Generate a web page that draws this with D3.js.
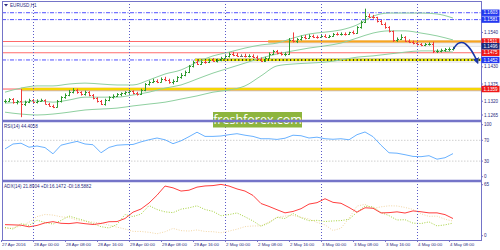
<!DOCTYPE html>
<html>
<head>
<meta charset="utf-8">
<script src="https://cdn.jsdelivr.net/npm/d3@7"></script>
<style>
  body { margin: 0; background: #fff; }
  svg { display: block; font-family: "Liberation Sans", Arial, sans-serif; }
</style>
</head>
<body>
<script>
// --- DATA ---

const symbol = 'EURUSD,H1';

// time axis (bar index of each label, 1 bar = 1 hour)
const timeLabels = ['27 Apr 2016', '28 Apr 00:00', '28 Apr 08:00', '28 Apr 16:00', '29 Apr 00:00',
    '29 Apr 08:00', '29 Apr 16:00', '2 May 00:00', '2 May 08:00', '2 May 16:00', '3 May 00:00',
    '3 May 08:00', '3 May 16:00', '4 May 00:00', '4 May 08:00'];
const timeTickBars = [-1, 7, 15, 23, 31, 39, 47, 55, 63, 71, 79, 87, 95, 103, 111];
const daySeparatorBars = [7, 31, 55, 79, 103];

// hourly bars [open, high, low, close], 27 Apr 17:00 -> 4 May 09:00
const bars = [
    [1.1320, 1.1326, 1.1314, 1.1322], [1.1322, 1.1330, 1.1318, 1.1326], [1.1326, 1.1330, 1.1312, 1.1316],
    [1.1316, 1.1324, 1.1310, 1.1320], [1.1320, 1.1359, 1.1269, 1.1312], [1.1312, 1.1322, 1.1305, 1.1318],
    [1.1318, 1.1328, 1.1314, 1.1324], [1.1324, 1.1327, 1.1315, 1.1318], [1.1318, 1.1326, 1.1313, 1.1322],
    [1.1322, 1.1328, 1.1318, 1.1324], [1.1324, 1.1326, 1.1310, 1.1312], [1.1312, 1.1315, 1.1303, 1.1306],
    [1.1306, 1.1309, 1.1298, 1.1302], [1.1302, 1.1324, 1.1300, 1.1320], [1.1320, 1.1336, 1.1316, 1.1332],
    [1.1332, 1.1345, 1.1328, 1.1340], [1.1340, 1.1356, 1.1336, 1.1350], [1.1350, 1.1362, 1.1345, 1.1357],
    [1.1357, 1.1360, 1.1344, 1.1348], [1.1348, 1.1352, 1.1338, 1.1342], [1.1342, 1.1354, 1.1338, 1.1350],
    [1.1350, 1.1352, 1.1336, 1.1340], [1.1340, 1.1343, 1.1326, 1.1330], [1.1330, 1.1333, 1.1316, 1.1320],
    [1.1320, 1.1324, 1.1308, 1.1312], [1.1312, 1.1328, 1.1306, 1.1324], [1.1324, 1.1336, 1.1320, 1.1332],
    [1.1332, 1.1342, 1.1328, 1.1338], [1.1338, 1.1346, 1.1334, 1.1342], [1.1342, 1.1348, 1.1336, 1.1346],
    [1.1346, 1.1352, 1.1340, 1.1348], [1.1348, 1.1356, 1.1344, 1.1352], [1.1352, 1.1355, 1.1342, 1.1346],
    [1.1346, 1.1350, 1.1338, 1.1342], [1.1342, 1.1360, 1.1340, 1.1356], [1.1356, 1.1378, 1.1352, 1.1374],
    [1.1374, 1.1386, 1.1370, 1.1382], [1.1382, 1.1392, 1.1378, 1.1386], [1.1386, 1.1390, 1.1378, 1.1382],
    [1.1382, 1.1396, 1.1380, 1.1392], [1.1392, 1.1398, 1.1384, 1.1388], [1.1388, 1.1392, 1.1376, 1.1380],
    [1.1380, 1.1390, 1.1374, 1.1386], [1.1386, 1.1400, 1.1382, 1.1396], [1.1396, 1.1410, 1.1392, 1.1404],
    [1.1404, 1.1418, 1.1400, 1.1414], [1.1414, 1.1436, 1.1410, 1.1432], [1.1432, 1.1450, 1.1428, 1.1446],
    [1.1446, 1.1452, 1.1436, 1.1440], [1.1440, 1.1450, 1.1436, 1.1446], [1.1446, 1.1452, 1.1440, 1.1444],
    [1.1444, 1.1456, 1.1442, 1.1452], [1.1452, 1.1458, 1.1446, 1.1450], [1.1450, 1.1456, 1.1444, 1.1452],
    [1.1452, 1.1462, 1.1448, 1.1458], [1.1458, 1.1470, 1.1454, 1.1466], [1.1466, 1.1476, 1.1460, 1.1472],
    [1.1472, 1.1478, 1.1464, 1.1468], [1.1468, 1.1474, 1.1462, 1.1466], [1.1466, 1.1470, 1.1462, 1.1466],
    [1.1466, 1.1472, 1.1460, 1.1464], [1.1464, 1.1470, 1.1460, 1.1466], [1.1466, 1.1470, 1.1458, 1.1462],
    [1.1462, 1.1466, 1.1452, 1.1456], [1.1456, 1.1460, 1.1446, 1.1450], [1.1450, 1.1462, 1.1446, 1.1458],
    [1.1458, 1.1476, 1.1456, 1.1472], [1.1472, 1.1484, 1.1468, 1.1480], [1.1480, 1.1484, 1.1470, 1.1474],
    [1.1474, 1.1478, 1.1466, 1.1470], [1.1470, 1.1476, 1.1464, 1.1472], [1.1472, 1.1522, 1.1468, 1.1516],
    [1.1516, 1.1540, 1.1508, 1.1514], [1.1514, 1.1522, 1.1506, 1.1518], [1.1518, 1.1530, 1.1514, 1.1526],
    [1.1526, 1.1532, 1.1518, 1.1522], [1.1522, 1.1534, 1.1520, 1.1530], [1.1530, 1.1533, 1.1522, 1.1526],
    [1.1526, 1.1530, 1.1520, 1.1524], [1.1524, 1.1532, 1.1522, 1.1528], [1.1528, 1.1534, 1.1524, 1.1526],
    [1.1526, 1.1532, 1.1522, 1.1528], [1.1528, 1.1538, 1.1526, 1.1536], [1.1536, 1.1540, 1.1530, 1.1534],
    [1.1534, 1.1540, 1.1530, 1.1536], [1.1536, 1.1540, 1.1530, 1.1534], [1.1534, 1.1542, 1.1532, 1.1540],
    [1.1540, 1.1546, 1.1534, 1.1538], [1.1538, 1.1560, 1.1536, 1.1556], [1.1556, 1.1578, 1.1552, 1.1574],
    [1.1574, 1.1616, 1.1570, 1.1594], [1.1594, 1.1600, 1.1586, 1.1590], [1.1590, 1.1596, 1.1584, 1.1588],
    [1.1588, 1.1590, 1.1572, 1.1576], [1.1576, 1.1580, 1.1564, 1.1568], [1.1568, 1.1572, 1.1552, 1.1556],
    [1.1556, 1.1560, 1.1540, 1.1544], [1.1544, 1.1546, 1.1510, 1.1516], [1.1516, 1.1524, 1.1510, 1.1520],
    [1.1520, 1.1534, 1.1516, 1.1526], [1.1526, 1.1528, 1.1510, 1.1514], [1.1514, 1.1518, 1.1506, 1.1510],
    [1.1510, 1.1514, 1.1502, 1.1506], [1.1506, 1.1510, 1.1498, 1.1502], [1.1502, 1.1506, 1.1496, 1.1500],
    [1.1500, 1.1506, 1.1496, 1.1502], [1.1502, 1.1508, 1.1498, 1.1504], [1.1504, 1.1510, 1.1474, 1.1480],
    [1.1480, 1.1486, 1.1474, 1.1482], [1.1482, 1.1488, 1.1476, 1.1484], [1.1484, 1.1490, 1.1478, 1.1486],
    [1.1486, 1.1492, 1.1480, 1.1488], [1.1488, 1.1494, 1.1482, 1.1490]
];

// bollinger bands, read every 4 bars
const bbStep = 4;
const bbUpper = [1.1349, 1.1362, 1.1369, 1.1369, 1.1375, 1.1378, 1.1375, 1.1372, 1.1372, 1.1388, 1.1407,
    1.1420, 1.1445, 1.1465, 1.1477, 1.1490, 1.1500, 1.1506, 1.1522, 1.1535, 1.1541, 1.1548, 1.1564,
    1.1592, 1.1602, 1.1602, 1.1602, 1.1599, 1.1586];
const bbMiddle = [1.1314, 1.1317, 1.1321, 1.1317, 1.1324, 1.1333, 1.1333, 1.1333, 1.1340, 1.1349, 1.1362,
    1.1372, 1.1391, 1.1410, 1.1426, 1.1442, 1.1458, 1.1471, 1.1481, 1.1490, 1.1497, 1.1506, 1.1522,
    1.1538, 1.1545, 1.1545, 1.1538, 1.1529, 1.1516];
const bbLower = [1.1285, 1.1279, 1.1276, 1.1279, 1.1285, 1.1292, 1.1295, 1.1298, 1.1305, 1.1311, 1.1317,
    1.1327, 1.1337, 1.1349, 1.1356, 1.1369, 1.1401, 1.1433, 1.1439, 1.1442, 1.1445, 1.1452, 1.1461,
    1.1465, 1.1471, 1.1477, 1.1481, 1.1481, 1.1477];

// indicators, read every 2 bars
const indStep = 2;
const rsi = [53.3, 62.9, 64.4, 56.7, 59, 56, 44, 60.6, 64.4, 67.9, 62.9, 61.5, 46, 56.3, 60.6, 61.5, 62, 67,
    71, 74.4, 71, 63.5, 69, 77, 85.6, 77.5, 77.5, 78.3, 80.8, 82.7, 79.8, 77.5, 73, 73, 71.7, 74, 79.8,
    78.8, 74.4, 76, 73, 72, 73, 71, 80.8, 86, 77, 60.6, 46, 45.2, 42.3, 39, 38.5, 40.4, 33.7, 36.5, 44.4];
const rsiLast = '44.4058';
const rsiLevels = [70, 30];
const rsiTicks = [100, 70, 30, 0];

const adx = [14.1, 13.8, 13.4, 11.3, 13.1, 16.3, 17.9, 15.8, 15.4, 16.6, 15.3, 14.3, 15.6, 17.8, 18, 21.9,
    30, 34, 41.6, 51.6, 63.3, 61, 56.9, 58, 61.9, 63.4, 63.9, 65.4, 63.3, 59.6, 56.9, 51.3, 41, 37.3, 33.1,
    29.1, 30.9, 34.4, 40.3, 42.1, 47.1, 42.5, 41.3, 36, 30, 35.6, 35, 29, 29.4, 30.4, 28.9, 31.6, 30.5,
    29.1, 29.1, 26.9, 21.9];
const plusDI = [10.6, 8.5, 15.3, 13.1, 19.8, 16.9, 14.8, 19.4, 25, 22, 19.1, 15.4, 11.5, 9.9, 14.4, 26.9,
    24.4, 27.5, 38.4, 33.4, 30.4, 29.4, 33.8, 35.5, 38.1, 33.4, 31, 25.4, 26.9, 29, 24.1, 18.8, 12.1, 16.3,
    23.4, 21.9, 28.4, 22.9, 19.1, 19.6, 18.1, 18.8, 19.3, 20.8, 30, 37.8, 36.6, 29.6, 25.6, 20, 20.4, 16,
    15.5, 17.6, 12.5, 13.8, 16.1];
const minusDI = [8.8, 10, 12.3, 17.1, 24.3, 27.1, 26.3, 24.1, 23.1, 20, 18.3, 17.3, 16.1, 13.4, 10.9, 8.5,
    5.5, 5.4, 4.3, 2.5, 5, 9.3, 6.5, 5.9, 7.3, 5.4, 5.1, 3.8, 5.9, 8.3, 11.6, 12.4, 12.5, 17.5, 23.4, 25,
    25.9, 23.4, 21.3, 16.9, 13.8, 6.6, 9.5, 22.3, 37.8, 40, 34.6, 36.8, 38.1, 37.9, 36, 33.5, 27.9, 24.6,
    25, 21, 18.6];
const adxLast = ['21.8904', '16.1472', '18.5882'];
const adxTicks = [65, 0];

// price axis + levels
const priceTicks = [1.1540, 1.1430, 1.1375, 1.1320, 1.1265];
const blueLevels = [1.1603, 1.1581, 1.1452];
const redLevels = [1.1511, 1.1475];
const bidPrice = 1.1496;
const lowLevel = { price: 1.1359, fromBar: 4 };
const supportLevel = { price: 1.1452, fromBar: 47.5 };
const resistLevel = { price: 1.1511, fromBar: 65.8 };
// forecast arrow [bar, price]
const forecast = [[112.1, 1.1487], [113.3, 1.1505], [114.6, 1.1507], [116.2, 1.1489], [117.5, 1.1462], [118, 1.1448]];


// --- SVG ---

const svg = d3.select('body').append('svg')
    .attr('width', 500)
    .attr('height', 250);

const frame = { left: 2, right: 481, top: 1, bottom: 240 };
const panels = {
    main: [2, 120],
    rsi: [122, 180],
    adx: [182, 239]
};
const axisColor = '#7474c8';
const textColor = '#2a2a80';

const xScale = d3.scaleLinear().domain([0, bars.length - 1]).range([5, 453]);
const yMain = d3.scaleLinear().domain([1.1260, 1.1637]).range([120, 2.1]);
const yRsi = d3.scaleLinear().domain([0, 100]).range([176.7, 124.7]);
const yAdx = d3.scaleLinear().domain([0, 65]).range([235.7, 184.7]);

// clip paths per panel
const defs = svg.append('defs');
Object.entries(panels).forEach(([name, [t, b]]) => {
    defs.append('clipPath').attr('id', 'clip-' + name)
        .append('rect')
        .attr('x', frame.left).attr('y', t)
        .attr('width', frame.right - frame.left).attr('height', b - t);
});
defs.append('marker')
    .attr('id', 'arrowhead')
    .attr('viewBox', '0 0 10 10')
    .attr('refX', 5).attr('refY', 5)
    .attr('markerWidth', 4).attr('markerHeight', 4)
    .attr('orient', 'auto')
    .append('path')
    .attr('d', 'M0,0 L10,5 L0,10 z')
    .attr('fill', '#1a36a6');

const mainG = svg.append('g').attr('clip-path', 'url(#clip-main)');
const rsiG = svg.append('g').attr('clip-path', 'url(#clip-rsi)');
const adxG = svg.append('g').attr('clip-path', 'url(#clip-adx)');

// day separators (dotted, through all panels)
svg.append('g').selectAll('line')
    .data(daySeparatorBars)
    .enter()
    .append('line')
    .attr('x1', d => Math.round(xScale(d)) + 0.5)
    .attr('x2', d => Math.round(xScale(d)) + 0.5)
    .attr('y1', frame.top)
    .attr('y2', frame.bottom)
    .attr('stroke', '#5b5bc8')
    .attr('stroke-dasharray', '1,2');

// --- main panel: levels ---
const hLine = (g, price, x0, color, width, dash) => g.append('line')
    .attr('x1', x0).attr('x2', frame.right)
    .attr('y1', yMain(price)).attr('y2', yMain(price))
    .attr('stroke', color)
    .attr('stroke-width', width)
    .attr('stroke-dasharray', dash || null);

hLine(mainG, bidPrice, frame.left, '#d8d8d8', 1);
blueLevels.forEach(p => hLine(mainG, p, frame.left, '#4f4fff', 1, '4,1.5,1,1.5'));
redLevels.forEach(p => hLine(mainG, p, frame.left, '#ff6b6b', 1.2));

// low level 1.1359: red thin line + highlighted yellow band
hLine(mainG, lowLevel.price, frame.left, '#ff5a5a', 1);
hLine(mainG, lowLevel.price - 0.0003, xScale(lowLevel.fromBar), '#c4c4c4', 4).attr('opacity', 0.3);
hLine(mainG, lowLevel.price, xScale(lowLevel.fromBar), '#d88a10', 2.8);
hLine(mainG, lowLevel.price, xScale(lowLevel.fromBar), '#fff000', 1.6);

// support 1.1452: yellow / dark dashed
hLine(mainG, supportLevel.price - 0.0003, xScale(supportLevel.fromBar), '#c4c4c4', 4).attr('opacity', 0.3);
hLine(mainG, supportLevel.price, xScale(supportLevel.fromBar), '#3a3a10', 2.2);
hLine(mainG, supportLevel.price, xScale(supportLevel.fromBar), '#f2ee00', 2.2, '2.5,1.2');

// resistance 1.1511: orange
hLine(mainG, resistLevel.price - 0.0003, xScale(resistLevel.fromBar), '#c4c4c4', 4).attr('opacity', 0.3);
hLine(mainG, resistLevel.price, xScale(resistLevel.fromBar), '#f08a00', 2);
hLine(mainG, resistLevel.price + 0.0001, xScale(resistLevel.fromBar), '#ffc640', 0.7);

// bollinger bands
const bandLine = d3.line()
    .x((d, i) => xScale(i * bbStep))
    .y(d => yMain(d))
    .curve(d3.curveMonotoneX);

mainG.selectAll('.band')
    .data([bbUpper, bbMiddle, bbLower])
    .enter()
    .append('path')
    .attr('class', 'band')
    .attr('d', bandLine)
    .attr('fill', 'none')
    .attr('stroke', '#8fd0a0')
    .attr('stroke-width', 1);

// OHLC bars
const barColor = d => d[3] > d[0] ? '#2f9a2f' : (d[3] < d[0] ? '#f03c3c' : '#707070');
const barG = mainG.selectAll('.bar')
    .data(bars)
    .enter()
    .append('g')
    .attr('class', 'bar')
    .attr('stroke', barColor)
    .attr('stroke-width', 1);

barG.append('line')
    .attr('x1', (d, i) => Math.round(xScale(i)) + 0.5)
    .attr('x2', (d, i) => Math.round(xScale(i)) + 0.5)
    .attr('y1', d => yMain(d[1]))
    .attr('y2', d => yMain(d[2]));
barG.append('line') // open tick
    .attr('x1', (d, i) => Math.round(xScale(i)) - 1)
    .attr('x2', (d, i) => Math.round(xScale(i)) + 0.5)
    .attr('y1', d => Math.round(yMain(d[0])) + 0.5)
    .attr('y2', d => Math.round(yMain(d[0])) + 0.5);
barG.append('line') // close tick
    .attr('x1', (d, i) => Math.round(xScale(i)) + 0.5)
    .attr('x2', (d, i) => Math.round(xScale(i)) + 2)
    .attr('y1', d => Math.round(yMain(d[3])) + 0.5)
    .attr('y2', d => Math.round(yMain(d[3])) + 0.5);

// forecast arrow
mainG.append('path')
    .datum(forecast)
    .attr('d', d3.line()
        .x(d => xScale(d[0]))
        .y(d => yMain(d[1]))
        .curve(d3.curveCatmullRom))
    .attr('fill', 'none')
    .attr('stroke', '#1a36a6')
    .attr('stroke-width', 1.6)
    .attr('marker-end', 'url(#arrowhead)');

// --- RSI panel ---
rsiG.selectAll('.lvl')
    .data(rsiLevels)
    .enter()
    .append('line')
    .attr('x1', frame.left).attr('x2', frame.right)
    .attr('y1', d => yRsi(d)).attr('y2', d => yRsi(d))
    .attr('stroke', '#cfcfcf')
    .attr('stroke-dasharray', '1.5,1.5');

const indLine = yScale => d3.line()
    .x((d, i) => xScale(i * indStep))
    .y(d => yScale(d));

rsiG.append('path')
    .attr('d', indLine(yRsi)(rsi))
    .attr('fill', 'none')
    .attr('stroke', '#6ab2ff')
    .attr('stroke-width', 1);

// --- ADX panel ---
adxG.append('path')
    .attr('d', indLine(yAdx)(minusDI))
    .attr('fill', 'none')
    .attr('stroke', '#f3d7a6')
    .attr('stroke-dasharray', '1,1.5');
adxG.append('path')
    .attr('d', indLine(yAdx)(plusDI))
    .attr('fill', 'none')
    .attr('stroke', '#a5d23c')
    .attr('stroke-dasharray', '1,1.5');
adxG.append('path')
    .attr('d', indLine(yAdx)(adx))
    .attr('fill', 'none')
    .attr('stroke', '#ff3f3f')
    .attr('stroke-width', 1);

// --- watermark ---
const wm = svg.append('g');
wm.append('rect')
    .attr('x', 213).attr('y', 112)
    .attr('width', 89).attr('height', 15.5)
    .attr('fill', '#8db53d');
wm.append('text')
    .attr('x', 257.5).attr('y', 124)
    .attr('text-anchor', 'middle')
    .attr('fill', '#fff')
    .style('font-family', '"Open Sans", sans-serif')
    .style('font-size', '12.5px')
    .text('freshforex.com');

// --- frame ---
svg.append('rect')
    .attr('x', frame.left + 0.5).attr('y', frame.top + 0.5)
    .attr('width', frame.right - frame.left).attr('height', frame.bottom - frame.top)
    .attr('fill', 'none')
    .attr('stroke', axisColor);
[panels.main[1] + 1, panels.rsi[1] + 1].forEach(y => {
    svg.append('line')
        .attr('x1', frame.left).attr('x2', frame.right)
        .attr('y1', y).attr('y2', y)
        .attr('stroke', axisColor)
        .attr('stroke-width', 2.4);
});

// --- right axis labels ---
const axisG = svg.append('g')
    .style('font-size', '4.6px')
    .attr('fill', textColor);

const tickLabel = (y, txt) => {
    axisG.append('line')
        .attr('x1', frame.right).attr('x2', frame.right + 2)
        .attr('y1', y).attr('y2', y)
        .attr('stroke', axisColor);
    axisG.append('text')
        .attr('x', frame.right + 3)
        .attr('y', y + 1.6)
        .text(txt);
};
priceTicks.forEach(p => tickLabel(Math.min(yMain(p), 115), p.toFixed(4)));
rsiTicks.forEach(v => tickLabel(yRsi(v), v));
adxTicks.forEach(v => tickLabel(yAdx(v), v));

// coloured price boxes
const boxLabel = (price, color) => {
    const y = yMain(price);
    axisG.append('rect')
        .attr('x', frame.right + 0.5).attr('y', y - 3.2)
        .attr('width', 18).attr('height', 6.4)
        .attr('fill', color);
    axisG.append('text')
        .attr('x', frame.right + 2.5).attr('y', y + 1.6)
        .attr('fill', '#fff')
        .text(price.toFixed(4));
};
blueLevels.forEach(p => boxLabel(p, '#2338f0'));
redLevels.forEach(p => boxLabel(p, '#f01818'));
boxLabel(lowLevel.price, '#f01818');
boxLabel(bidPrice, '#1c2a7c');

// --- time axis ---
const timeG = svg.append('g')
    .style('font-size', '4.4px')
    .attr('fill', textColor);
timeG.selectAll('line')
    .data(timeTickBars)
    .enter()
    .append('line')
    .attr('x1', d => Math.round(xScale(d)) + 0.5)
    .attr('x2', d => Math.round(xScale(d)) + 0.5)
    .attr('y1', frame.bottom).attr('y2', frame.bottom + 2)
    .attr('stroke', axisColor);
timeG.selectAll('text')
    .data(timeLabels)
    .enter()
    .append('text')
    .attr('x', (d, i) => xScale(timeTickBars[i]) + 1)
    .attr('y', 246)
    .text(d => d);

// --- panel titles ---
const titleG = svg.append('g')
    .style('font-size', '4.6px')
    .attr('fill', textColor);
titleG.append('path')
    .attr('d', 'M4,4 L8,4 L6,6.5 z')
    .attr('fill', textColor);
titleG.append('text').attr('x', 10).attr('y', 6.6).text(symbol);
titleG.append('text').attr('x', 4).attr('y', 128)
    .text('RSI(14) ' + rsiLast);
titleG.append('text').attr('x', 4).attr('y', 187.5)
    .text('ADX(14) ' + adxLast[0] + ' +DI:' + adxLast[1] + ' -DI:' + adxLast[2]);
</script>
</body>
</html>
